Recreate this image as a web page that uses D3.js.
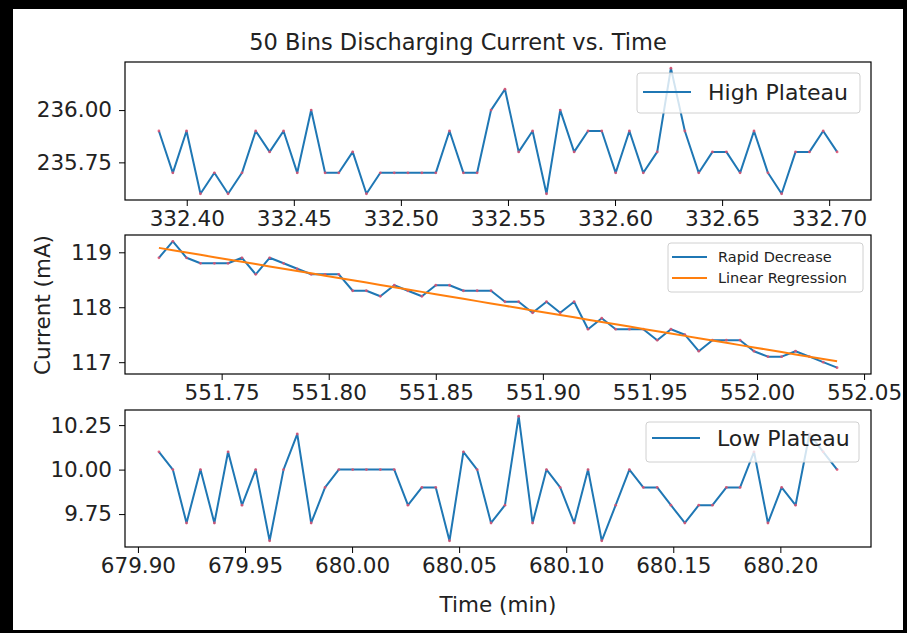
<!DOCTYPE html>
<html><head><meta charset="utf-8">
<script src="https://cdn.jsdelivr.net/npm/d3@7"></script>
<style>
html,body{margin:0;padding:0;background:#fff;}
svg text{font-family:"DejaVu Sans",sans-serif;fill:#222;}
</style></head>
<body>
<svg id="chart" width="907" height="633"></svg>
<script>
// ---------------- data ----------------
const title = "50 Bins Discharging Current vs. Time";
const xLabel = "Time (min)";
const yLabel = "Current (mA)";

const highTime = [332.3870,332.3935,332.3999,332.4064,332.4129,332.4193,332.4258,332.4322,332.4387,332.4452,
  332.4516,332.4581,332.4646,332.4710,332.4775,332.4839,332.4904,332.4969,332.5033,332.5098,
  332.5163,332.5227,332.5292,332.5356,332.5421,332.5486,332.5550,332.5615,332.5680,332.5744,
  332.5809,332.5874,332.5938,332.6003,332.6067,332.6132,332.6197,332.6261,332.6326,332.6391,
  332.6455,332.6520,332.6584,332.6649,332.6714,332.6778,332.6843,332.6908,332.6972,332.7037];
const highCurrent = [235.9,235.7,235.9,235.6,235.7,235.6,235.7,235.9,235.8,235.9,
  235.7,236.0,235.7,235.7,235.8,235.6,235.7,235.7,235.7,235.7,
  235.7,235.9,235.7,235.7,236.0,236.1,235.8,235.9,235.6,236.0,
  235.8,235.9,235.9,235.7,235.9,235.7,235.8,236.2,235.9,235.7,
  235.8,235.8,235.7,235.9,235.7,235.6,235.8,235.8,235.9,235.8];

const rapidTime = [551.7207,551.7272,551.7336,551.7401,551.7466,551.7530,551.7595,551.7659,551.7724,551.7789,
  551.7853,551.7918,551.7983,551.8047,551.8112,551.8176,551.8241,551.8306,551.8370,551.8435,
  551.8500,551.8564,551.8629,551.8693,551.8758,551.8823,551.8887,551.8952,551.9017,551.9081,
  551.9146,551.9211,551.9275,551.9340,551.9404,551.9469,551.9534,551.9598,551.9663,551.9728,
  551.9792,551.9857,551.9921,551.9986,552.0051,552.0115,552.0180,552.0245,552.0309,552.0374];
const rapidCurrent = [118.9,119.2,118.9,118.8,118.8,118.8,118.9,118.6,118.9,118.8,
  118.7,118.6,118.6,118.6,118.3,118.3,118.2,118.4,118.3,118.2,
  118.4,118.4,118.3,118.3,118.3,118.1,118.1,117.9,118.1,117.9,
  118.1,117.6,117.8,117.6,117.6,117.6,117.4,117.6,117.5,117.2,
  117.4,117.4,117.4,117.2,117.1,117.1,117.2,117.1,117.0,116.9];

const lowTime = [679.9098,679.9163,679.9227,679.9292,679.9357,679.9421,679.9486,679.9550,679.9615,679.9680,
  679.9744,679.9809,679.9874,679.9938,680.0003,680.0067,680.0132,680.0197,680.0261,680.0326,
  680.0391,680.0455,680.0520,680.0584,680.0649,680.0714,680.0778,680.0843,680.0908,680.0972,
  680.1037,680.1102,680.1166,680.1231,680.1295,680.1360,680.1425,680.1489,680.1554,680.1619,
  680.1683,680.1748,680.1812,680.1877,680.1942,680.2006,680.2071,680.2136,680.2200,680.2265];
const lowCurrent = [10.1,10.0,9.7,10.0,9.7,10.1,9.8,10.0,9.6,10.0,
  10.2,9.7,9.9,10.0,10.0,10.0,10.0,10.0,9.8,9.9,
  9.9,9.6,10.1,10.0,9.7,9.8,10.3,9.7,10.0,9.9,
  9.7,10.0,9.6,9.8,10.0,9.9,9.9,9.8,9.7,9.8,
  9.8,9.9,9.9,10.1,9.7,9.9,9.8,10.2,10.1,10.0];

const highXTicks = [332.40,332.45,332.50,332.55,332.60,332.65,332.70];
const highYTicks = [235.75,236.00];
const rapidXTicks = [551.75,551.80,551.85,551.90,551.95,552.00,552.05];
const rapidYTicks = [117,118,119];
const lowXTicks = [679.90,679.95,680.00,680.05,680.10,680.15,680.20];
const lowYTicks = [9.75,10.00,10.25];

const seriesNames = ["High Plateau","Rapid Decrease","Linear Regression","Low Plateau"];

// ---------------- drawing ----------------
const svg = d3.select("#chart");
const BLUE = "#1f77b4", ORANGE = "#ff7f0e", DOT = "#e2506e";
const L = 125, R = 871;

// border
svg.append("rect").attr("x",0).attr("y",0).attr("width",907).attr("height",633).attr("fill","#000");
svg.append("rect").attr("x",13).attr("y",9).attr("width",890).attr("height",621).attr("fill","#fff");

function padDomain(arr){
  const [a,b] = d3.extent(arr); const m = (b-a)*0.05; return [a-m,b+m];
}

function panel(cfg){
  const x = d3.scaleLinear().domain(padDomain(cfg.xs)).range([L,R]);
  const y = d3.scaleLinear().domain(padDomain(cfg.ys)).range([cfg.y1,cfg.y0]);
  const g = svg.append("g");
  const pts = cfg.xs.map((t,i)=>[t,cfg.ys[i]]);
  const line = d3.line().x(d=>x(d[0])).y(d=>y(d[1]));
  g.append("path").datum(pts).attr("d",line).attr("fill","none")
    .attr("stroke",BLUE).attr("stroke-width",2).attr("stroke-linejoin","round");
  g.selectAll("circle.pt").data(pts).join("circle").attr("class","pt")
    .attr("cx",d=>x(d[0])).attr("cy",d=>y(d[1])).attr("r",1.4).attr("fill",DOT).attr("opacity",0.85);
  if(cfg.regression){
    const n = pts.length, mx = d3.mean(cfg.xs), my = d3.mean(cfg.ys);
    let sxy=0,sxx=0; pts.forEach(([a,b])=>{sxy+=(a-mx)*(b-my); sxx+=(a-mx)*(a-mx);});
    const k = sxy/sxx, c = my-k*mx;
    const reg = cfg.xs.map(t=>[t,k*t+c]);
    g.append("path").datum(reg).attr("d",line).attr("fill","none")
      .attr("stroke",ORANGE).attr("stroke-width",2);
  }
  // axes
  const xa = g.append("g").attr("transform",`translate(0,${cfg.y1})`)
    .call(d3.axisBottom(x).tickValues(cfg.xt).tickFormat(d3.format(".2f")).tickSizeOuter(0).tickSize(6).tickPadding(5));
  const ya = g.append("g").attr("transform",`translate(${L},0)`)
    .call(d3.axisLeft(y).tickValues(cfg.yt).tickFormat(d3.format(cfg.yf)).tickSizeOuter(0).tickSize(6).tickPadding(7));
  [xa,ya].forEach(a=>{
    a.select(".domain").remove();
    a.selectAll("line").attr("stroke","#000").attr("stroke-width",1);
    a.selectAll("text").attr("font-size",21.5).attr("fill","#222").attr("font-family","DejaVu Sans");
  });
  g.append("rect").attr("x",L).attr("y",cfg.y0).attr("width",R-L).attr("height",cfg.y1-cfg.y0)
    .attr("fill","none").attr("stroke","#000").attr("stroke-width",1.2);
  return g;
}

panel({xs:highTime, ys:highCurrent, y0:62, y1:200, xt:highXTicks, yt:highYTicks, yf:".2f"});
panel({xs:rapidTime, ys:rapidCurrent, y0:235, y1:374, xt:rapidXTicks, yt:rapidYTicks, yf:"d", regression:true});
panel({xs:lowTime, ys:lowCurrent, y0:410, y1:547, xt:lowXTicks, yt:lowYTicks, yf:".2f"});

// legends
function legend(x0,y0,w,h,items,fs,hx0,hx1,tx,rowY){
  const g = svg.append("g");
  g.append("rect").attr("x",x0).attr("y",y0).attr("width",w).attr("height",h).attr("rx",3)
    .attr("fill","#fff").attr("fill-opacity",0.8).attr("stroke","#d0d0d0").attr("stroke-width",1);
  items.forEach((it,i)=>{
    g.append("line").attr("x1",hx0).attr("x2",hx1).attr("y1",rowY[i]).attr("y2",rowY[i])
      .attr("stroke",it.c).attr("stroke-width",2.2);
    g.append("text").attr("x",tx).attr("y",rowY[i]).attr("dy","0.36em").attr("font-size",fs).text(it.t);
  });
}
legend(637,73,223,40,[{t:seriesNames[0],c:BLUE}],22,643,691,708,[92]);
legend(668,243,195,49,[{t:seriesNames[1],c:BLUE},{t:seriesNames[2],c:ORANGE}],14.5,672,707,718,[257,278]);
legend(646,422,213,40,[{t:seriesNames[3],c:BLUE}],22,652,700,717,[438]);

// titles
svg.append("text").attr("x",458).attr("y",50).attr("text-anchor","middle").attr("font-size",22.5).text(title);
svg.append("text").attr("x",498).attr("y",612).attr("text-anchor","middle").attr("font-size",21.5).text(xLabel);
svg.append("text").attr("transform","translate(50,305) rotate(-90)").attr("text-anchor","middle").attr("font-size",21.5).text(yLabel);
</script>
</body></html>
